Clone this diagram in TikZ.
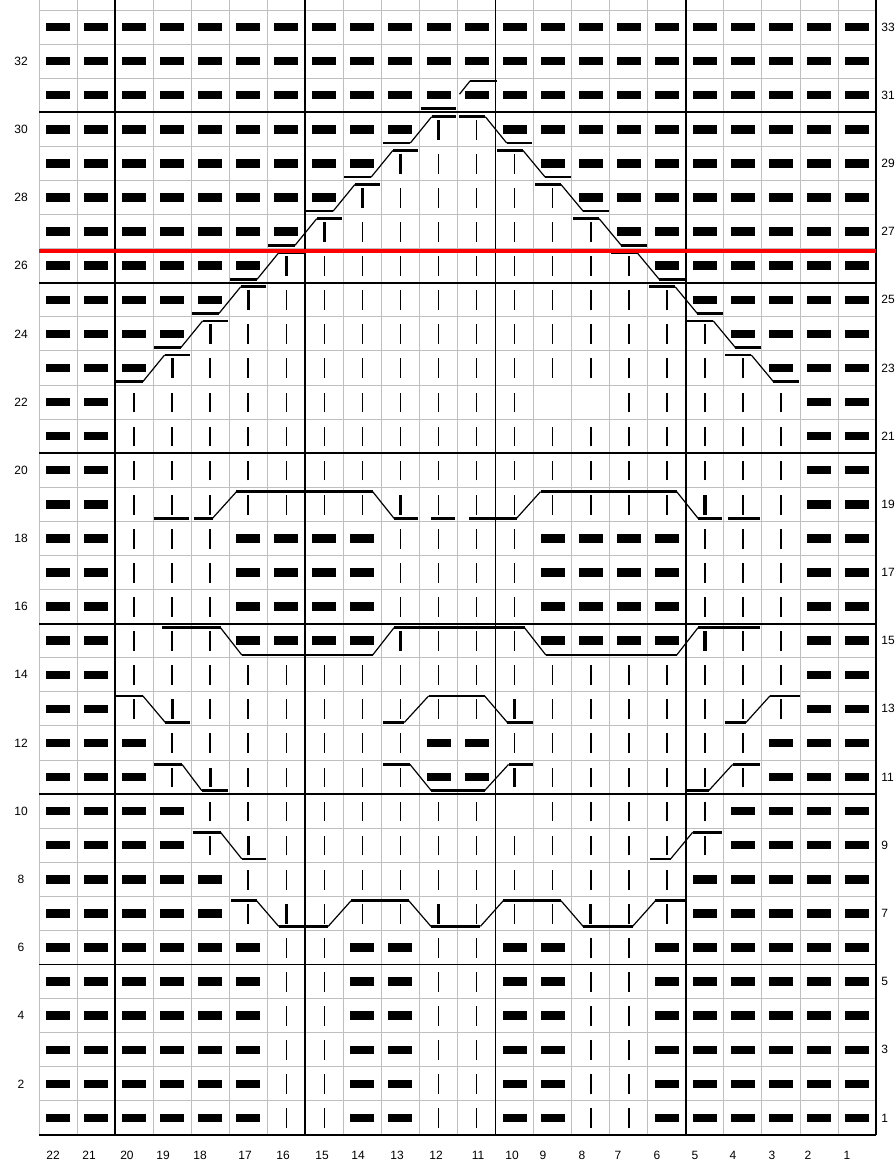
\documentclass[tikz,border=0pt]{standalone}
\usepackage{fontspec}
\setmainfont{Liberation Sans}
\newcount\colidx
\newif\ifcpfirst
\newcommand\chartrow[2]{\def\rowno{#1}\colidx=0 \rowloop#2\relax}
\def\rowloop#1{\ifx#1\relax\else\chartcell#1\advance\colidx by 1 \expandafter\rowloop\fi}
\def\chartcell#1{%
  \if#1P\fill[purl] (\the\colidx+0.185,\rowno-0.625) rectangle ++(0.63,0.25);\fi
  \if#1K\draw[knit] (\the\colidx+0.5,\rowno-0.8) -- ++(0,0.58);\fi
  \if#1B\draw[bknit] (\the\colidx+0.5,\rowno-0.8) -- ++(0,0.58);\fi}
\newcommand\cablepath[1]{%
  \global\cpfirsttrue
  \foreach \px/\py in {#1}{%
    \ifcpfirst\else
      \ifdim\cpy pt=\py pt
        \draw[cabh] (\cpx,\cpy) -- (\px,\py);
      \else
        \draw[cabd] (\cpx,\cpy) -- (\px,\py);
      \fi
    \fi
    \xdef\cpx{\px}\xdef\cpy{\py}\global\cpfirstfalse
  }}
\begin{document}
\begin{tikzpicture}[x=28.5375pt,y=25.5675pt,
  gridthin/.style={draw=gray!50, line width=0.7pt},
  gridthick/.style={draw=black, line width=1.3pt},
  purl/.style={fill=black},
  knit/.style={draw=black, line width=1.2pt},
  bknit/.style={draw=black, line width=2.5pt},
  cabh/.style={draw=black, line width=2.0pt},
  cabd/.style={draw=black, line width=0.9pt},
  redline/.style={draw=red, line width=2.4pt},
  lab/.style={font=\fontsize{9}{10}\selectfont, inner sep=0pt}]
\useasboundingbox (-1.0250,-0.7920) rectangle (22.4967,33.2942);
\fill[white] (-1.0250,-0.7920) rectangle (22.4967,33.2942);
% grid
\foreach \i in {0,...,22} \draw[gridthin] (\i,0) -- (\i,33.2942);
\foreach \j in {1,...,33} \draw[gridthin] (0,\j) -- (22,\j);
\foreach \j in {5,10,...,30} \draw[gridthick] (0,\j) -- (22,\j);
\draw[gridthick] (0,0) -- (22,0);
\foreach \i in {2,7,12,17,22} \draw[gridthick] (\i,0) -- (\i,33.2942);
% stitches
\chartrow{1}{PPPPPPKKPPKKPPKKPPPPPP}
\chartrow{2}{PPPPPPKKPPKKPPKKPPPPPP}
\chartrow{3}{PPPPPPKKPPKKPPKKPPPPPP}
\chartrow{4}{PPPPPPKKPPKKPPKKPPPPPP}
\chartrow{5}{PPPPPPKKPPKKPPKKPPPPPP}
\chartrow{6}{PPPPPPKKPPKKPPKKPPPPPP}
\chartrow{7}{PPPPPKBKKKBKKKBKKPPPPP}
\chartrow{8}{PPPPPKKKKKKKKKKKKPPPPP}
\chartrow{9}{PPPPKBKKKKKKKKKKKKPPPP}
\chartrow{10}{PPPPKKKKKKKK.KKKKKPPPP}
\chartrow{11}{PPPKBKKKKKPPBKKKKKKPPP}
\chartrow{12}{PPPKKKKKKKPPKKKKKKKPPP}
\chartrow{13}{PPKBKKKKKKKKBKKKKKKKPP}
\chartrow{14}{PPKKKKKKKKKKKKKKKKKKPP}
\chartrow{15}{PPKKKPPPPBKKKPPPPBKKPP}
\chartrow{16}{PPKKKPPPPKKKKPPPPKKKPP}
\chartrow{17}{PPKKKPPPPKKKKPPPPKKKPP}
\chartrow{18}{PPKKKPPPPKKKKPPPPKKKPP}
\chartrow{19}{PPKKKKKKKBKKKKKKKBKKPP}
\chartrow{20}{PPKKKKKKKKKKKKKKKKKKPP}
\chartrow{21}{PPKKKKKKKKKKKKKKKKKKPP}
\chartrow{22}{PPKKKKKKKKKKK..KKKKKPP}
\chartrow{23}{PPPBKKKKKKKKKKKKKKKPPP}
\chartrow{24}{PPPPBKKKKKKKKKKKKKPPPP}
\chartrow{25}{PPPPPBKKKKKKKKKKKPPPPP}
\chartrow{26}{PPPPPPBKKKKKKKKKPPPPPP}
\chartrow{27}{PPPPPPPBKKKKKKKPPPPPPP}
\chartrow{28}{PPPPPPPPBKKKKKPPPPPPPP}
\chartrow{29}{PPPPPPPPPBKKKPPPPPPPPP}
\chartrow{30}{PPPPPPPPPPBKPPPPPPPPPP}
\chartrow{31}{PPPPPPPPPPPPPPPPPPPPPP}
\chartrow{32}{PPPPPPPPPPPPPPPPPPPPPP}
\chartrow{33}{PPPPPPPPPPPPPPPPPPPPPP}
% cables
\cablepath{5.05/6.87,5.72/6.87,6.3/6.12,7.6/6.12,8.2/6.87,9.72/6.87,10.3/6.12,11.6/6.12,12.2/6.87,13.72/6.87,14.3/6.12,15.6/6.12,16.2/6.87,16.97/6.87}
\cablepath{4.04/8.88,4.77/8.88,5.33/8.1,5.96/8.1}
\cablepath{16.06/8.1,16.6/8.1,17.18/8.88,17.95/8.88}
\cablepath{3.02/10.87,3.76/10.87,4.28/10.1,4.98/10.1}
\cablepath{9.05/10.87,9.75/10.87,10.31/10.1,11.71/10.1,12.34/10.87,12.97/10.87}
\cablepath{17.04/10.1,17.6/10.1,18.23/10.87,18.96/10.87}
\cablepath{2.0/12.88,2.73/12.88,3.32/12.1,3.97/12.1}
\cablepath{9.05/12.1,9.6/12.1,10.24/12.88,11.71/12.88,12.31/12.1,12.97/12.1}
\cablepath{18.02/12.1,18.58/12.1,19.21/12.88,19.99/12.88}
\cablepath{3.23/14.88,4.77/14.88,5.33/14.08,8.77/14.08,9.33/14.88,12.76/14.88,13.32/14.08,16.76/14.08,17.32/14.88,18.96/14.88}
\cablepath{3.02/18.09,3.93/18.09}
\cablepath{4.07/18.09,4.56/18.09,5.19/18.87,8.77/18.87,9.33/18.09,9.96/18.09}
\cablepath{10.3/18.09,10.94/18.09}
\cablepath{11.3/18.09,12.55/18.09,13.18/18.87,16.76/18.87,17.32/18.09,17.95/18.09}
\cablepath{18.1/18.09,18.96/18.09}
\cablepath{2.02/22.1,2.73/22.1,3.3/22.88,3.97/22.88}
\cablepath{18.04/22.88,18.72/22.88,19.3/22.1,19.97/22.1}
\cablepath{3.02/23.1,3.73/23.1,4.3/23.88,4.97/23.88}
\cablepath{17.04/23.88,17.72/23.88,18.3/23.1,18.97/23.1}
\cablepath{4.02/24.1,4.73/24.1,5.3/24.88,5.97/24.88}
\cablepath{16.04/24.88,16.72/24.88,17.3/24.1,17.97/24.1}
\cablepath{5.02/25.1,5.73/25.1,6.3/25.88,6.97/25.88}
\cablepath{15.04/25.88,15.72/25.88,16.3/25.1,16.97/25.1}
\cablepath{6.02/26.1,6.73/26.1,7.3/26.88,7.97/26.88}
\cablepath{14.04/26.88,14.72/26.88,15.3/26.1,15.97/26.1}
\cablepath{7.02/27.1,7.73/27.1,8.3/27.88,8.97/27.88}
\cablepath{13.04/27.88,13.72/27.88,14.3/27.1,14.97/27.1}
\cablepath{8.02/28.1,8.73/28.1,9.3/28.88,9.97/28.88}
\cablepath{12.04/28.88,12.72/28.88,13.3/28.1,13.97/28.1}
\cablepath{9.04/29.1,9.76/29.1,10.32/29.87,10.96/29.87}
\cablepath{11.04/29.87,11.73/29.87,12.29/29.1,12.95/29.1}
\cablepath{10.03/30.12,10.96/30.12}
\cablepath{11.05/30.53,11.33/30.92,12.03/30.92}
% red line
\draw[redline] (0,25.93) -- (22,25.93);
% labels
\foreach \r in {2,4,...,32} \node[lab] (L\r) at (-0.473,\r-0.5) {\r};
\foreach \r in {1,3,...,33} \node[lab,anchor=west] (R\r) at (22.13,\r-0.5) {\r};
\foreach \c/\p in {22/53,21/89,20/127,19/163,18/200,17/245,16/283,15/322,14/358,13/397,12/436,11/478,10/512,9/543,8/582,7/618,6/657,5/695,4/733,3/772,2/808,1/847}
  \node[lab] (B\c) at ({(\p-39)/38.05},-0.587) {\c};
\end{tikzpicture}
\end{document}
